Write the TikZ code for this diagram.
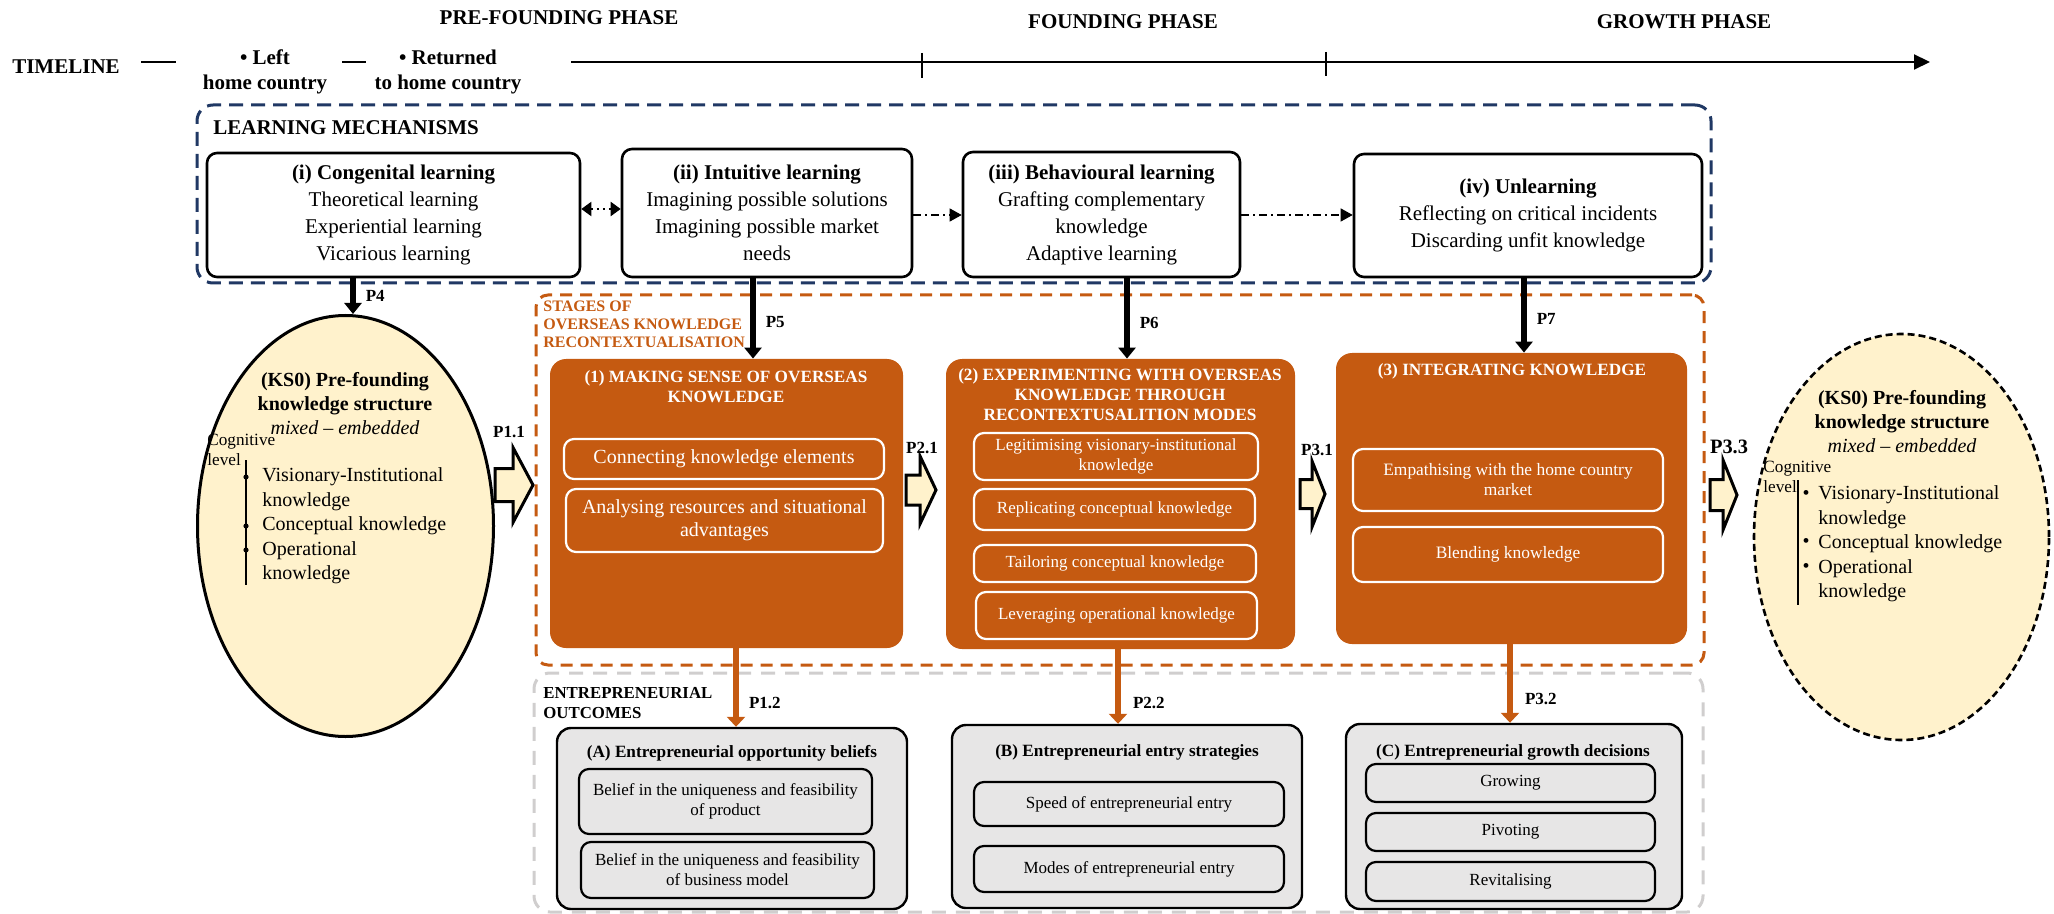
\documentclass[tikz,border=0pt]{standalone}
\usepackage{fontspec}
\setmainfont{Liberation Serif}
\usetikzlibrary{arrows.meta,fit,shapes.geometric}
\definecolor{navyc}{HTML}{203864}
\definecolor{rust}{HTML}{C55A11}
\definecolor{cream}{HTML}{FFF2CC}
\definecolor{lgrey}{HTML}{E7E6E6}
\definecolor{dgrey}{HTML}{D0CECE}
\newcommand{\fsz}[2]{\fontsize{#1}{#2}\selectfont}
\newcommand{\blkarrow}[6]{\draw[blk] ({#1},{#4-#5}) -- ({#2},{#4-#5}) -- ({#2},{#4-#6}) -- ({#3},{#4}) -- ({#2},{#4+#6}) -- ({#2},{#4+#5}) -- ({#1},{#4+#5}) -- cycle;}
\begin{document}
\begin{tikzpicture}[x=0.5pt,y=-0.5pt,
  tl/.style={font=\bfseries\fsz{10.5}{12.5}, inner sep=0pt, align=center},
  lbox/.style={draw=black, line width=1.3pt, rounded corners=5pt, fill=white, inner sep=0pt},
  ltext/.style={inner sep=0pt, align=center, font=\fsz{10.5}{13.5}},
  obox/.style={fill=rust, rounded corners=8pt, inner sep=0pt},
  osub/.style={draw=white, line width=1.1pt, rounded corners=5pt, inner sep=0pt},
  otext/.style={inner sep=0pt, align=center, text=white},
  otitle/.style={text=white, font=\bfseries\fsz{8.6}{10}, align=center, inner sep=0pt},
  gbox/.style={draw=black, fill=lgrey, line width=1.2pt, rounded corners=7pt, inner sep=0pt},
  gsub/.style={draw=black, line width=1.1pt, rounded corners=5pt, inner sep=0pt},
  gtext/.style={inner sep=0pt, align=center, font=\fsz{8.5}{10}},
  gtitle/.style={font=\bfseries\fsz{8.6}{10}, inner sep=0pt},
  plab/.style={font=\bfseries\fsz{8.5}{10}, inner sep=0pt},
  parr/.style={line width=2.8pt, -{Triangle[length=5.5pt,width=8.5pt]}},
  oarr/.style={draw=rust, line width=3pt, -{Triangle[length=5pt,width=9pt]}},
  blk/.style={draw=black, line width=1.5pt, fill=cream, line join=miter},
  ddash/.style={dash pattern=on 4pt off 2pt on 1pt off 2pt, line width=0.6pt, -{Triangle[length=6pt,width=6.5pt]}},
  kstext/.style={font=\fsz{10}{12.25}, inner sep=0pt, align=left},
  kstitle/.style={font=\fsz{10}{12}, inner sep=0pt, align=center},
  coglab/.style={font=\fsz{8.6}{10}, inner sep=0pt, align=left},
]
\useasboundingbox (0,0) rectangle (2054,914);

% ---------- timeline ----------
\node[tl] (tline) at (66,67) {TIMELINE};
\node[tl] (leftc) at (265,72) {• Left\\home country};
\node[tl] (retc) at (448,72) {• Returned\\to home country};
\node[tl] (pf) at (559,18) {PRE-FOUNDING PHASE};
\node[tl] (fp) at (1123,22) {FOUNDING PHASE};
\node[tl] (gp) at (1684,22) {GROWTH PHASE};
\coordinate (d1a) at (141,62); \coordinate (d1b) at (176,62);
\coordinate (d2a) at (342,62); \coordinate (d2b) at (366,62);
\coordinate (tls) at (571,62); \coordinate (tle) at (1930,62);
\coordinate (tk1a) at (922,53); \coordinate (tk1b) at (922,78);
\coordinate (tk2a) at (1326,52); \coordinate (tk2b) at (1326,76);
\draw[line width=0.7pt] (d1a) -- (d1b);
\draw[line width=0.7pt] (d2a) -- (d2b);
\draw[line width=1pt, -{Triangle[length=8pt,width=7.5pt]}] (tls) -- (tle);
\draw[line width=0.6pt] (tk1a) -- (tk1b);
\draw[line width=0.6pt] (tk2a) -- (tk2b);

% ---------- containers ----------
\node[fit={(197,105) (1711,283)}, inner sep=0pt, draw=navyc, line width=1.5pt, dash pattern=on 7pt off 4pt, rounded corners=8pt] (lm) {};
\node[fit={(536,295) (1704,665)}, inner sep=0pt, draw=rust, line width=1.5pt, dash pattern=on 6pt off 4pt, rounded corners=6pt] (stg) {};
\node[fit={(534,673) (1703,912)}, inner sep=0pt, draw=dgrey, line width=1.5pt, dash pattern=on 7pt off 5pt, rounded corners=8pt] (eo) {};
\node[anchor=west, font=\bfseries\fsz{10.5}{12}, inner sep=0pt] (lmlab) at (213,128) {LEARNING MECHANISMS};
\node[anchor=west, text=rust, font=\bfseries\fsz{8}{9}, align=left, inner sep=0pt] (stglab) at (543,324) {STAGES OF\\OVERSEAS KNOWLEDGE\\RECONTEXTUALISATION};
\node[anchor=west, font=\bfseries\fsz{8.4}{10}, align=left, inner sep=0pt] (eolab) at (543,703) {ENTREPRENEURIAL\\OUTCOMES};

% ---------- learning mechanisms ----------
\node[lbox, fit={(207,153) (580,277)}] (bi) {};
\node[ltext] (bit) at (bi.center) {\textbf{(i) Congenital learning}\\Theoretical learning\\Experiential learning\\Vicarious learning};
\node[lbox, fit={(622,149) (912,277)}] (bii) {};
\node[ltext] (biit) at (bii.center) {\textbf{(ii) Intuitive learning}\\Imagining possible solutions\\Imagining possible market\\needs};
\node[lbox, fit={(963,152) (1240,277)}] (biii) {};
\node[ltext] (biiit) at (biii.center) {\textbf{(iii) Behavioural learning}\\Grafting complementary\\knowledge\\Adaptive learning};
\node[lbox, fit={(1354,154) (1702,277)}] (biv) {};
\node[ltext] (bivt) at (biv.center) {\textbf{(iv) Unlearning}\\Reflecting on critical incidents\\Discarding unfit knowledge};
\coordinate (ya) at (0,209);
\coordinate (yb) at (0,215);
\draw[line width=1pt, dotted, {Triangle[length=5pt,width=7pt]}-{Triangle[length=5pt,width=7pt]}] (bi.east |- ya) -- (bii.west |- ya);
\draw[ddash] (bii.east |- yb) -- (biii.west |- yb);
\draw[ddash] (biii.east |- yb) -- (biv.west |- yb);

% ---------- knowledge structure ellipses ----------
\node[ellipse, draw=black, line width=1.5pt, fill=cream, inner sep=0pt, minimum width=148pt, minimum height=210.5pt] (ell1) at (345.5,526) {};
\node[kstitle] (k1t) at (345,404) {\textbf{(KS0) Pre-founding}\\\textbf{knowledge structure}\\\textit{mixed – embedded}};
\node[coglab, anchor=west] (k1c) at (207,450) {Cognitive\\level};
\coordinate (k1la) at (246,460); \coordinate (k1lb) at (246,585);
\draw[line width=0.8pt] (k1la) -- (k1lb);
\fill (246,477) circle (2.6);
\fill (246,526) circle (2.6);
\fill (246,550) circle (2.6);
\node[kstext, anchor=west] (k1l) at (262,526) {Visionary-Institutional\\knowledge\\Conceptual knowledge\\Operational\\knowledge};

\node[ellipse, draw=black, line width=1.3pt, dash pattern=on 3.5pt off 2pt, fill=cream, inner sep=0pt, minimum width=147.5pt, minimum height=203pt] (ell2) at (1901.5,537) {};
\node[kstitle] (k2t) at (1902,422) {\textbf{(KS0) Pre-founding}\\\textbf{knowledge structure}\\\textit{mixed – embedded}};
\node[coglab, anchor=west] (k2c) at (1763,477) {Cognitive\\level};
\coordinate (k2la) at (1798,480); \coordinate (k2lb) at (1798,605);
\draw[line width=0.8pt] (k2la) -- (k2lb);
\node[kstext] (k2b1) at (1806,495) {•};
\node[kstext] (k2b2) at (1806,543) {•};
\node[kstext] (k2b3) at (1806,568) {•};
\node[kstext, anchor=west] (k2l) at (1818,544) {Visionary-Institutional\\knowledge\\Conceptual knowledge\\Operational\\knowledge};

% ---------- stages ----------
\node[obox, fit={(550,359) (903,648)}] (s1) {};
\node[otitle] (s1t) at (726,387) {(1) MAKING SENSE OF OVERSEAS\\KNOWLEDGE};
\node[osub, fit={(564,439) (884,479)}] (s11) {};
\node[otext, font=\fsz{10}{11.5}] (s11t) at (s11.center) {Connecting knowledge elements};
\node[osub, fit={(566,489) (883,552)}] (s12) {};
\node[otext, font=\fsz{10}{11.5}] (s12t) at (s12.center) {Analysing resources and situational\\advantages};

\node[obox, fit={(946,359) (1295,649)}] (s2) {};
\node[otitle] (s2t) at (1120,395) {(2) EXPERIMENTING WITH OVERSEAS\\KNOWLEDGE THROUGH\\RECONTEXTUSALITION MODES};
\node[osub, fit={(974,433) (1258,480)}] (s21) {};
\node[otext, font=\fsz{8.5}{10}] (s21t) at (s21.center) {Legitimising visionary-institutional\\knowledge};
\node[osub, fit={(974,489) (1255,530)}] (s22) {};
\node[otext, font=\fsz{8.5}{10}] (s22t) at (s22.center) {Replicating conceptual knowledge};
\node[osub, fit={(974,545) (1256,582)}] (s23) {};
\node[otext, font=\fsz{8.5}{10}] (s23t) at (s23.center) {Tailoring conceptual knowledge};
\node[osub, fit={(976,592) (1257,639)}] (s24) {};
\node[otext, font=\fsz{8.5}{10}] (s24t) at (s24.center) {Leveraging operational knowledge};

\node[obox, fit={(1336,353) (1687,644)}] (s3) {};
\node[otitle] (s3t) at (1512,371) {(3) INTEGRATING KNOWLEDGE};
\node[osub, fit={(1353,449) (1663,511)}] (s31) {};
\node[otext, font=\fsz{8.7}{10}] (s31t) at (s31.center) {Empathising with the home country\\market};
\node[osub, fit={(1353,527) (1663,582)}] (s32) {};
\node[otext, font=\fsz{8.7}{10}] (s32t) at (s32.center) {Blending knowledge};

% ---------- outcomes ----------
\node[gbox, fit={(557,728) (907,909)}] (oa) {};
\node[gtitle] (oat) at (732,753) {(A) Entrepreneurial opportunity beliefs};
\node[gsub, fit={(579,769) (872,834)}] (oa1) {};
\node[gtext] (oa1t) at (oa1.center) {Belief in the uniqueness and feasibility\\of product};
\node[gsub, fit={(581,842) (874,898)}] (oa2) {};
\node[gtext] (oa2t) at (oa2.center) {Belief in the uniqueness and feasibility\\of business model};

\node[gbox, fit={(952,725) (1302,908)}] (ob) {};
\node[gtitle] (obt) at (1127,752) {(B) Entrepreneurial entry strategies};
\node[gsub, fit={(974,782) (1284,826)}] (ob1) {};
\node[gtext] (ob1t) at (ob1.center) {Speed of entrepreneurial entry};
\node[gsub, fit={(974,846) (1284,892)}] (ob2) {};
\node[gtext] (ob2t) at (ob2.center) {Modes of entrepreneurial entry};

\node[gbox, fit={(1346,724) (1682,909)}] (oc) {};
\node[gtitle] (oct) at (1513,752) {(C) Entrepreneurial growth decisions};
\node[gsub, fit={(1366,764) (1655,802)}] (oc1) {};
\node[gtext] (oc1t) at (oc1.center) {Growing};
\node[gsub, fit={(1366,813) (1655,851)}] (oc2) {};
\node[gtext] (oc2t) at (oc2.center) {Pivoting};
\node[gsub, fit={(1366,862) (1655,901)}] (oc3) {};
\node[gtext] (oc3t) at (oc3.center) {Revitalising};

% ---------- proposition arrows ----------
\coordinate (xp4) at (353,0);
\coordinate (xp5) at (753,0);
\coordinate (xp6) at (1127,0);
\coordinate (xp7) at (1524,0);
\coordinate (xq1) at (736,0);
\coordinate (xq2) at (1118,0);
\coordinate (xq3) at (1510,0);
\draw[parr] (bi.south -| xp4) -- node[plab, pos=0.5, right=5pt] {P4} (ell1.north -| xp4);
\draw[parr] (bii.south -| xp5) -- node[plab, pos=0.55, right=5pt] {P5} (s1.north -| xp5);
\draw[parr] (biii.south -| xp6) -- node[plab, pos=0.55, right=5pt] {P6} (s2.north -| xp6);
\draw[parr] (biv.south -| xp7) -- node[plab, pos=0.55, right=5pt] {P7} (s3.north -| xp7);
\draw[oarr] (s1.south -| xq1) -- node[plab, pos=0.7, right=5pt] {P1.2} (oa.north -| xq1);
\draw[oarr] (s2.south -| xq2) -- node[plab, pos=0.72, right=6pt] {P2.2} (ob.north -| xq2);
\draw[oarr] (s3.south -| xq3) -- node[plab, pos=0.7, right=6pt] {P3.2} (oc.north -| xq3);

% ---------- block arrows ----------
\blkarrow{495}{513}{533}{485}{16.5}{37.5}
\blkarrow{906}{920}{936}{490}{15}{34}
\blkarrow{1300}{1312}{1325}{494}{14.5}{33}
\blkarrow{1710}{1723}{1737}{495}{15.5}{35}
\node[plab] (p11) at (509,432) {P1.1};
\node[plab] (p21) at (922,448) {P2.1};
\node[plab] (p31) at (1317,450) {P3.1};
\node[plab, font=\bfseries\fsz{10.2}{12}] (p33) at (1729,447) {P3.3};
\end{tikzpicture}
\end{document}
